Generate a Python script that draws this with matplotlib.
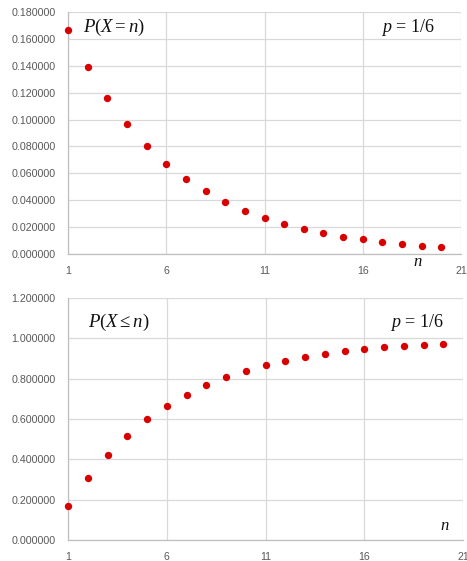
import matplotlib
matplotlib.use("Agg")
import matplotlib.pyplot as plt
from matplotlib.ticker import FormatStrFormatter, MultipleLocator

n_values = list(range(1, 21))
pmf = [0.166667, 0.138889, 0.115741, 0.096451, 0.080376, 0.066980, 0.055816,
       0.046514, 0.038761, 0.032301, 0.026918, 0.022431, 0.018693, 0.015577,
       0.012981, 0.010818, 0.009015, 0.007512, 0.006260, 0.005217]
cdf = [0.166667, 0.305556, 0.421296, 0.517747, 0.598122, 0.665102, 0.720918,
       0.767432, 0.806193, 0.838494, 0.865412, 0.887843, 0.906536, 0.922113,
       0.935095, 0.945912, 0.954927, 0.962439, 0.968699, 0.973916]
x_ticks = [1, 6, 11, 16, 21]

plt.rcParams["mathtext.fontset"] = "custom"
plt.rcParams["mathtext.rm"] = "Liberation Serif"
plt.rcParams["mathtext.it"] = "Liberation Serif:italic"
plt.rcParams["font.family"] = ["Liberation Sans", "DejaVu Sans"]

W, H = 467, 561
fig = plt.figure(figsize=(W / 100, H / 100), dpi=100)

grid_c = "#d9d9d9"
tick_c = "#595959"
red = "#d90000"


def make_axes(rect, ys, ymax, ystep):
    ax = fig.add_axes(rect)
    ax.scatter(n_values, ys, s=28, color=red, zorder=3, linewidths=0, clip_on=False)
    ax.set_xlim(1, 21)
    ax.set_ylim(0, ymax)
    ax.set_xticks(x_ticks)
    ax.yaxis.set_major_locator(MultipleLocator(ystep))
    ax.yaxis.set_major_formatter(FormatStrFormatter("%.6f"))
    ax.grid(True, color=grid_c, linewidth=0.9)
    ax.set_axisbelow(True)
    for side in ("top", "right"):
        ax.spines[side].set_visible(False)
    for side in ("left", "bottom"):
        ax.spines[side].set_color("#bfbfbf")
        ax.spines[side].set_linewidth(0.9)
    ax.tick_params(length=0, labelsize=7.7, labelcolor=tick_c)
    ax.tick_params(axis="y", pad=9)
    ax.tick_params(axis="x", pad=9)
    return ax


ax1 = make_axes([68 / W, 1 - 254 / H, 393 / W, 242 / H], pmf, 0.18, 0.02)
ax2 = make_axes([68 / W, 1 - 540 / H, 395 / W, 242 / H], cdf, 1.2, 0.2)

serif = dict(family="Liberation Serif", color="#111111")
ax1.text(0.038, 0.935, r"$P(X = n)$", transform=ax1.transAxes, fontsize=13.5,
         va="center", ha="left", **serif)
ax1.text(0.797, 0.935, r"$p$ = 1/6", transform=ax1.transAxes, fontsize=13,
         va="center", ha="left", **serif)
ax1.text((418 - 68) / 393, -0.035, r"$n$", transform=ax1.transAxes, fontsize=12,
         va="center", ha="center", **serif)

ax2.text(0.05, 0.90, r"$P(X \leq n)$", transform=ax2.transAxes, fontsize=13.5,
         va="center", ha="left", **serif)
ax2.text(0.815, 0.90, r"$p$ = 1/6", transform=ax2.transAxes, fontsize=13,
         va="center", ha="left", **serif)
ax2.text((445 - 68) / 395, 0.058, r"$n$", transform=ax2.transAxes, fontsize=12,
         va="center", ha="center", **serif)

fig.savefig("out.png", dpi=100)
